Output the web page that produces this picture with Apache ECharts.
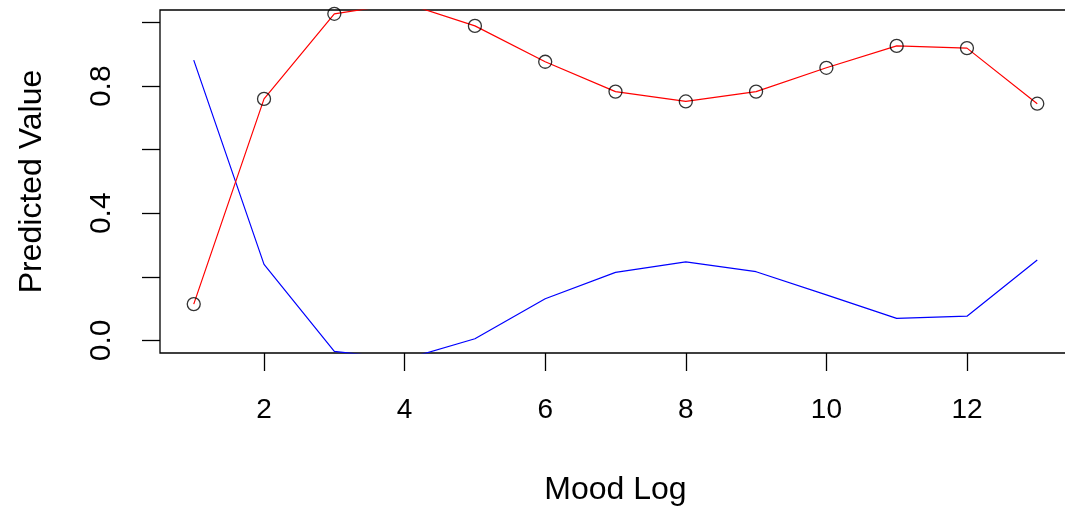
<!DOCTYPE html>
<html>
<head>
<meta charset="utf-8">
<script src="https://cdn.jsdelivr.net/npm/echarts@6/dist/echarts.min.js"></script>
<style>
  html, body { margin: 0; padding: 0; background: #fff; }
  #chart { width: 1065px; height: 512px; }
</style>
</head>
<body>
<div id="chart"></div>
<script>
// Mood log index (x) and the two predicted series
const moodLog = [1, 2, 3, 4, 5, 6, 7, 8, 9, 10, 11, 12, 13];
const redPredicted = [0.114, 0.760, 1.028, 1.062, 0.990, 0.877, 0.783, 0.752, 0.783, 0.858, 0.927, 0.920, 0.745];
const bluePredicted = [0.882, 0.239, -0.035, -0.060, 0.005, 0.131, 0.214, 0.247, 0.216, 0.143, 0.069, 0.076, 0.253];

const xTicks = [2, 4, 6, 8, 10, 12];
const yTicks = [0, 0.2, 0.4, 0.6, 0.8, 1.0];
const yLabels = [0, 0.4, 0.8];

const pair = (xs, ys) => xs.map((x, i) => [x, ys[i]]);
const FONT = '"Liberation Sans", Arial, sans-serif';

const chart = echarts.init(document.getElementById('chart'), null, { renderer: 'canvas' });
chart.setOption({
  animation: false,
  backgroundColor: '#ffffff',
  grid: {
    left: 160, top: 10, width: 911, height: 343,
    show: true, borderColor: '#000', borderWidth: 1.3, backgroundColor: 'transparent',
    containLabel: false, outerBoundsMode: 'none'
  },
  xAxis: {
    type: 'value', min: 0.52, max: 13.48,
    name: 'Mood Log', nameLocation: 'middle', nameGap: 121,
    nameTextStyle: { fontFamily: FONT, fontSize: 32, color: '#000' },
    axisLine: { show: false, onZero: false },
    splitLine: { show: false },
    axisTick: { show: true, length: 18, customValues: xTicks, lineStyle: { color: '#000', width: 1.3 } },
    axisLabel: { customValues: xTicks, margin: 43, fontFamily: FONT, fontSize: 28, color: '#000' }
  },
  yAxis: {
    type: 'value', min: -0.04, max: 1.04,
    name: 'Predicted Value', nameLocation: 'middle', nameGap: 112, nameRotate: 90,
    nameTextStyle: { fontFamily: FONT, fontSize: 32, color: '#000' },
    axisLine: { show: false, onZero: false },
    splitLine: { show: false },
    axisTick: { show: true, length: 18, customValues: yTicks, lineStyle: { color: '#000', width: 1.3 } },
    axisLabel: {
      customValues: yLabels, rotate: 90, margin: 43,
      fontFamily: FONT, fontSize: 30, color: '#000',
      formatter: v => v.toFixed(1)
    }
  },
  series: [
    {
      type: 'line', data: pair(moodLog, bluePredicted), clip: true,
      showSymbol: false, lineStyle: { color: '#0000ff', width: 1.2 }, z: 2
    },
    {
      type: 'line', data: pair(moodLog, redPredicted), clip: true,
      showSymbol: false, lineStyle: { color: '#ff0000', width: 1.2 }, z: 3
    },
    {
      type: 'scatter', data: pair(moodLog, redPredicted), clip: true,
      symbol: 'circle', symbolSize: 13,
      itemStyle: { color: 'transparent', borderColor: '#000', borderWidth: 1.3 }, z: 4
    }
  ]
});
</script>
</body>
</html>
